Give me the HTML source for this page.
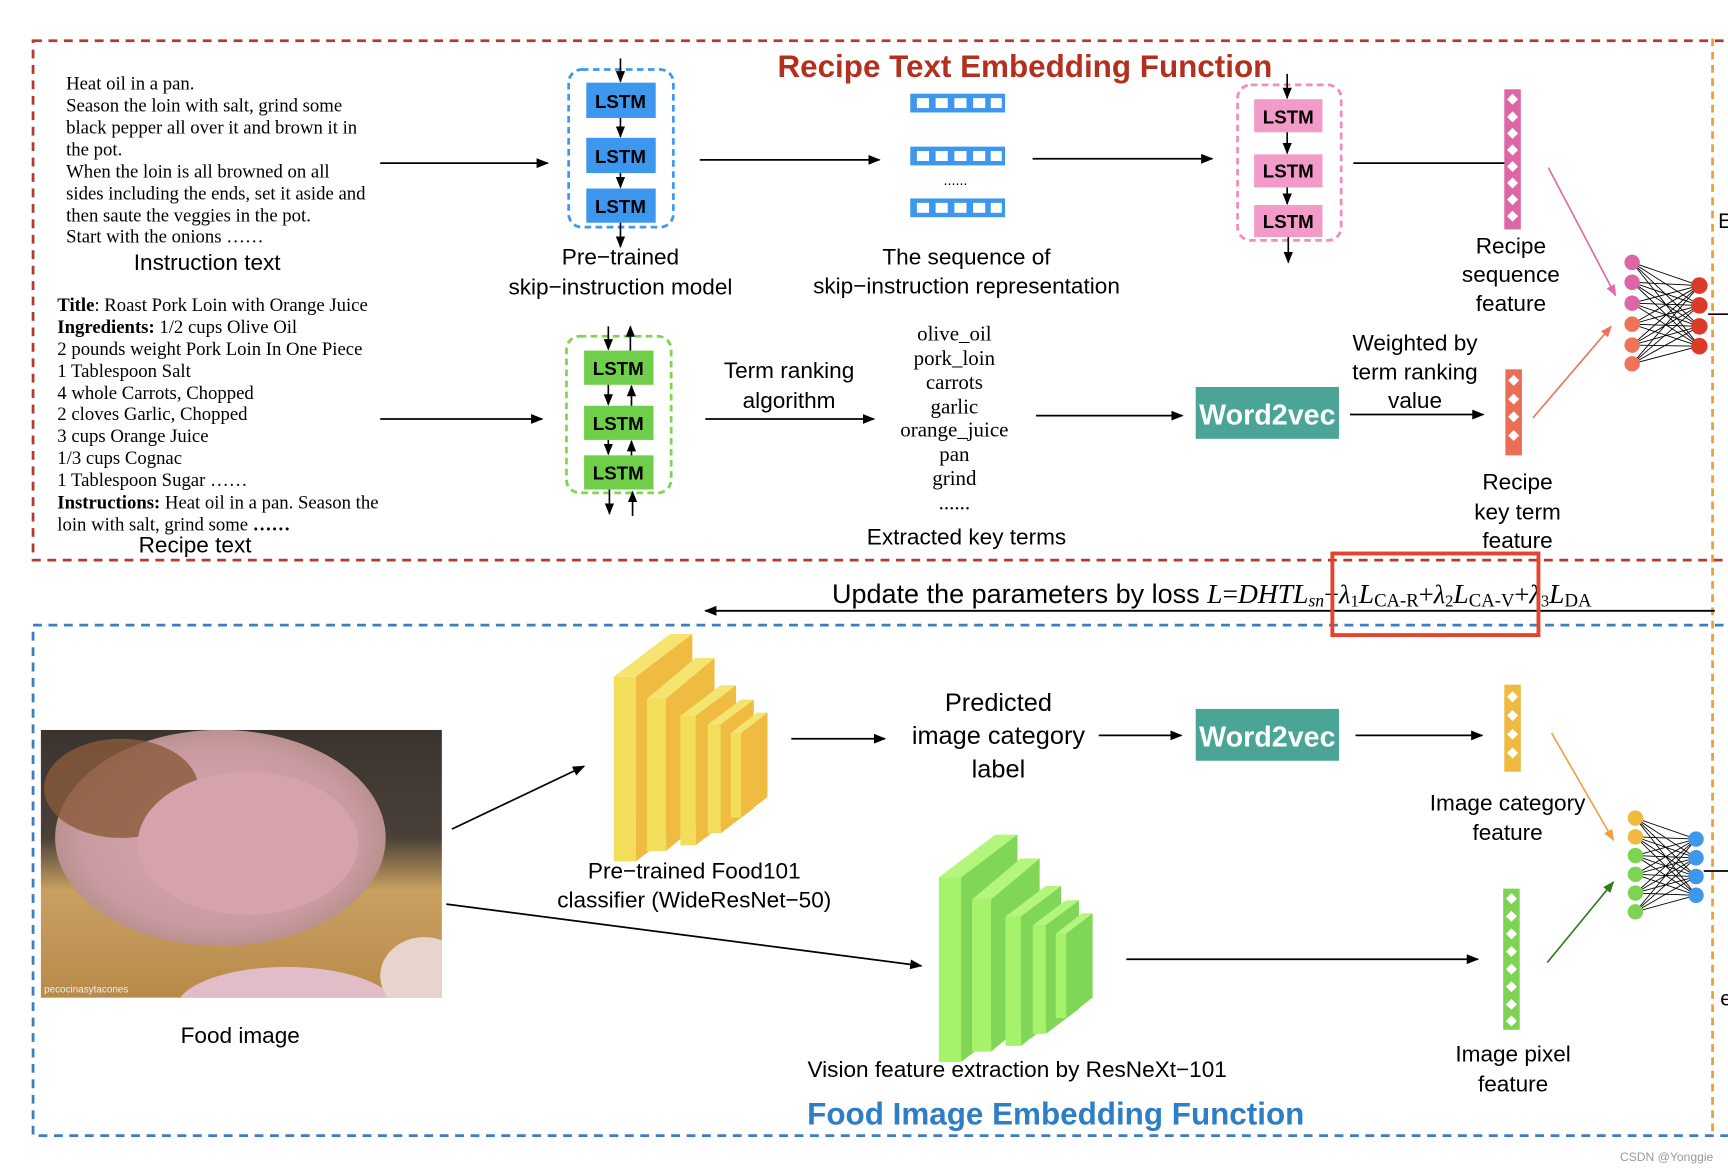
<!DOCTYPE html>
<html><head><meta charset="utf-8"><style>
html,body{margin:0;padding:0;background:#fff;}
svg{display:block;}
.s{font-family:"Liberation Sans",sans-serif;fill:#000;}
.r{font-family:"Liberation Serif",serif;fill:#000;}
</style></head><body>
<svg width="1728" height="1172" viewBox="0 0 1568 1063" preserveAspectRatio="none" xmlns="http://www.w3.org/2000/svg">
<defs>
<marker id="a" viewBox="0 0 10 10" refX="9" refY="5" markerWidth="7" markerHeight="7" orient="auto-start-reverse"><path d="M0,1 L10,5 L0,9 z" fill="#000"/></marker>
<marker id="ap" viewBox="0 0 10 10" refX="9" refY="5" markerWidth="7" markerHeight="7" orient="auto"><path d="M0,1 L10,5 L0,9 z" fill="#e06aa8"/></marker>
<marker id="ao" viewBox="0 0 10 10" refX="9" refY="5" markerWidth="7" markerHeight="7" orient="auto"><path d="M0,1 L10,5 L0,9 z" fill="#ee7358"/></marker>
<marker id="ay" viewBox="0 0 10 10" refX="9" refY="5" markerWidth="7" markerHeight="7" orient="auto"><path d="M0,1 L10,5 L0,9 z" fill="#f0a040"/></marker>
<marker id="ag" viewBox="0 0 10 10" refX="9" refY="5" markerWidth="7" markerHeight="7" orient="auto"><path d="M0,1 L10,5 L0,9 z" fill="#2f7a22"/></marker>
<linearGradient id="wood" x1="0" y1="0" x2="0" y2="1"><stop offset="0" stop-color="#3a3430"/><stop offset="0.4" stop-color="#4a4038"/><stop offset="0.6" stop-color="#c9a060"/><stop offset="1" stop-color="#b88a4a"/></linearGradient>
<radialGradient id="meat" cx="0.5" cy="0.5" r="0.6"><stop offset="0" stop-color="#d9a9b0"/><stop offset="0.7" stop-color="#c99aa0"/><stop offset="1" stop-color="#a8867a"/></radialGradient>
<clipPath id="photo"><rect x="37" y="662" width="364" height="243"/></clipPath>
</defs>

<!-- boxes -->
<rect x="30" y="37" width="1560" height="471" fill="none" stroke="#b33a2c" stroke-width="2.5" stroke-dasharray="8,6"/>
<rect x="30" y="567" width="1560" height="463" fill="none" stroke="#3a7fc4" stroke-width="2.5" stroke-dasharray="8,6"/>
<line x1="1554" y1="35" x2="1554" y2="1030" stroke="#f0a030" stroke-width="2.5" stroke-dasharray="7,5"/>

<text x="930" y="70" text-anchor="middle" class="s" style="font-size:28.5px;fill:#b3301f;font-weight:bold">Recipe Text Embedding Function</text>

<!-- instruction text -->
<g class="r" style="font-size:17px">
<text x="60" y="81">Heat oil in a pan.</text>
<text x="60" y="101">Season the loin with salt, grind some</text>
<text x="60" y="121">black pepper all over it and brown it in</text>
<text x="60" y="141">the pot.</text>
<text x="60" y="161">When the loin is all browned on all</text>
<text x="60" y="181">sides including the ends, set it aside and</text>
<text x="60" y="201">then saute the veggies in the pot.</text>
<text x="60" y="220">Start with the onions ……</text>
</g>
<text x="188" y="245" text-anchor="middle" class="s" style="font-size:20.5px">Instruction text</text>
<line x1="345" y1="148" x2="497" y2="148" stroke="#000" stroke-width="1.6" marker-end="url(#a)"/>

<!-- blue lstm -->
<rect x="516" y="63" width="95" height="143" rx="12" fill="none" stroke="#3d9af0" stroke-width="2.5" stroke-dasharray="6,4"/>
<g fill="#3d97ee"><rect x="532" y="75" width="63" height="32"/><rect x="532" y="125" width="63" height="32"/><rect x="532" y="171" width="63" height="31"/></g>
<g class="s" style="font-size:17px;font-weight:bold" text-anchor="middle"><text x="563" y="98">LSTM</text><text x="563" y="148">LSTM</text><text x="563" y="193">LSTM</text></g>
<g stroke="#000" stroke-width="1.5"><line x1="563" y1="53" x2="563" y2="74" marker-end="url(#a)"/><line x1="563" y1="107" x2="563" y2="124" marker-end="url(#a)"/><line x1="563" y1="157" x2="563" y2="170" marker-end="url(#a)"/><line x1="563" y1="202" x2="563" y2="224" marker-end="url(#a)"/></g>
<text x="563" y="240" text-anchor="middle" class="s" style="font-size:20.5px">Pre−trained</text>
<text x="563" y="267" text-anchor="middle" class="s" style="font-size:20.5px">skip−instruction model</text>
<line x1="635" y1="145" x2="798" y2="145" stroke="#000" stroke-width="1.6" marker-end="url(#a)"/>

<!-- vectors -->
<g>
<rect x="826" y="85" width="86" height="17" fill="#3d97ee"/><rect x="826" y="133" width="86" height="17" fill="#3d97ee"/><rect x="826" y="180" width="86" height="17" fill="#3d97ee"/>
<g fill="#fff">
<rect x="832" y="89" width="11" height="9"/><rect x="849" y="89" width="11" height="9"/><rect x="866" y="89" width="11" height="9"/><rect x="883" y="89" width="11" height="9"/><rect x="899" y="89" width="10" height="9"/>
<rect x="832" y="137" width="11" height="9"/><rect x="849" y="137" width="11" height="9"/><rect x="866" y="137" width="11" height="9"/><rect x="883" y="137" width="11" height="9"/><rect x="899" y="137" width="10" height="9"/>
<rect x="832" y="184" width="11" height="9"/><rect x="849" y="184" width="11" height="9"/><rect x="866" y="184" width="11" height="9"/><rect x="883" y="184" width="11" height="9"/><rect x="899" y="184" width="10" height="9"/>
</g>
<text x="867" y="168" text-anchor="middle" class="s" style="font-size:13px">......</text>
</g>
<text x="877" y="240" text-anchor="middle" class="s" style="font-size:20.5px">The sequence of</text>
<text x="877" y="266" text-anchor="middle" class="s" style="font-size:20.5px">skip−instruction representation</text>
<line x1="937" y1="144" x2="1100" y2="144" stroke="#000" stroke-width="1.6" marker-end="url(#a)"/>

<!-- pink lstm -->
<rect x="1123" y="77" width="94" height="141" rx="12" fill="none" stroke="#f08cc0" stroke-width="2.5" stroke-dasharray="6,4"/>
<g fill="#f29ac8"><rect x="1138" y="90" width="62" height="30"/><rect x="1138" y="140" width="62" height="30"/><rect x="1138" y="186" width="62" height="29"/></g>
<g class="s" style="font-size:17px;font-weight:bold" text-anchor="middle"><text x="1169" y="112">LSTM</text><text x="1169" y="161">LSTM</text><text x="1169" y="207">LSTM</text></g>
<g stroke="#000" stroke-width="1.5"><line x1="1168" y1="67" x2="1168" y2="89" marker-end="url(#a)"/><line x1="1168" y1="120" x2="1168" y2="139" marker-end="url(#a)"/><line x1="1168" y1="170" x2="1168" y2="185" marker-end="url(#a)"/><line x1="1169" y1="215" x2="1169" y2="238" marker-end="url(#a)"/></g>
<line x1="1228" y1="148" x2="1378" y2="148" stroke="#000" stroke-width="1.6" marker-end="url(#a)"/>

<!-- pink bar -->
<rect x="1365" y="81" width="15" height="127" fill="#dd66a6"/>
<g fill="#fff">
<path d="M1372.5,85 l5,5 l-5,5 l-5,-5z"/><path d="M1372.5,101 l5,5 l-5,5 l-5,-5z"/><path d="M1372.5,116 l5,5 l-5,5 l-5,-5z"/><path d="M1372.5,131 l5,5 l-5,5 l-5,-5z"/><path d="M1372.5,146 l5,5 l-5,5 l-5,-5z"/><path d="M1372.5,161 l5,5 l-5,5 l-5,-5z"/><path d="M1372.5,176 l5,5 l-5,5 l-5,-5z"/><path d="M1372.5,191 l5,5 l-5,5 l-5,-5z"/>
</g>
<g class="s" style="font-size:20.5px" text-anchor="middle"><text x="1371" y="230">Recipe</text><text x="1371" y="256">sequence</text><text x="1371" y="282">feature</text></g>

<!-- recipe text -->
<g class="r" style="font-size:17px">
<text x="52" y="282"><tspan font-weight="bold">Title</tspan>: Roast Pork Loin with Orange Juice</text>
<text x="52" y="302"><tspan font-weight="bold">Ingredients:</tspan> 1/2 cups Olive Oil</text>
<text x="52" y="322">2 pounds weight Pork Loin In One Piece</text>
<text x="52" y="342">1 Tablespoon Salt</text>
<text x="52" y="362">4 whole Carrots, Chopped</text>
<text x="52" y="381">2 cloves Garlic, Chopped</text>
<text x="52" y="401">3 cups Orange Juice</text>
<text x="52" y="421">1/3 cups Cognac</text>
<text x="52" y="441">1 Tablespoon Sugar ……</text>
<text x="52" y="461"><tspan font-weight="bold">Instructions:</tspan> Heat oil in a pan. Season the</text>
<text x="52" y="481">loin with salt, grind some <tspan font-weight="bold">……</tspan></text>
</g>
<text x="177" y="501" text-anchor="middle" class="s" style="font-size:20.5px">Recipe text</text>
<line x1="345" y1="380" x2="492" y2="380" stroke="#000" stroke-width="1.6" marker-end="url(#a)"/>

<!-- green lstm -->
<rect x="514" y="305" width="95" height="142" rx="12" fill="none" stroke="#7fd64e" stroke-width="2.5" stroke-dasharray="6,4"/>
<g fill="#6fcf4a"><rect x="530" y="318" width="63" height="31"/><rect x="530" y="368" width="63" height="31"/><rect x="530" y="413" width="63" height="31"/></g>
<g class="s" style="font-size:17px;font-weight:bold" text-anchor="middle"><text x="561" y="340">LSTM</text><text x="561" y="390">LSTM</text><text x="561" y="435">LSTM</text></g>
<g stroke="#000" stroke-width="1.5">
<line x1="552" y1="296" x2="552" y2="317" marker-end="url(#a)"/><line x1="572" y1="318" x2="572" y2="296" marker-end="url(#a)"/>
<line x1="552" y1="349" x2="552" y2="367" marker-end="url(#a)"/><line x1="573" y1="368" x2="573" y2="350" marker-end="url(#a)"/>
<line x1="552" y1="399" x2="552" y2="412" marker-end="url(#a)"/><line x1="573" y1="413" x2="573" y2="400" marker-end="url(#a)"/>
<line x1="553" y1="444" x2="553" y2="466" marker-end="url(#a)"/><line x1="574" y1="468" x2="574" y2="446" marker-end="url(#a)"/>
</g>
<g class="s" style="font-size:20.5px" text-anchor="middle"><text x="716" y="343">Term ranking</text><text x="716" y="370">algorithm</text></g>
<line x1="640" y1="380" x2="793" y2="380" stroke="#000" stroke-width="1.6" marker-end="url(#a)"/>
<g class="r" style="font-size:19px" text-anchor="middle">
<text x="866" y="309">olive_oil</text><text x="866" y="331">pork_loin</text><text x="866" y="353">carrots</text><text x="866" y="375">garlic</text><text x="866" y="396">orange_juice</text><text x="866" y="418">pan</text><text x="866" y="440">grind</text><text x="866" y="462">......</text>
</g>
<text x="877" y="494" text-anchor="middle" class="s" style="font-size:20.5px">Extracted key terms</text>
<line x1="940" y1="377" x2="1073" y2="377" stroke="#000" stroke-width="1.6" marker-end="url(#a)"/>
<rect x="1085" y="351" width="130" height="47" fill="#4aa597"/>
<text x="1150" y="385" text-anchor="middle" class="s" style="font-size:26px;fill:#fff;font-weight:bold">Word2vec</text>
<g class="s" style="font-size:20.5px" text-anchor="middle"><text x="1284" y="318">Weighted by</text><text x="1284" y="344">term ranking</text><text x="1284" y="370">value</text></g>
<line x1="1225" y1="376" x2="1346" y2="376" stroke="#000" stroke-width="1.6" marker-end="url(#a)"/>
<rect x="1366" y="335" width="15" height="78" fill="#eb6d55"/>
<g fill="#fff"><path d="M1373.5,340 l5,5 l-5,5 l-5,-5z"/><path d="M1373.5,357 l5,5 l-5,5 l-5,-5z"/><path d="M1373.5,373 l5,5 l-5,5 l-5,-5z"/><path d="M1373.5,390 l5,5 l-5,5 l-5,-5z"/></g>
<g class="s" style="font-size:20.5px" text-anchor="middle"><text x="1377" y="444">Recipe</text><text x="1377" y="471">key term</text><text x="1377" y="497">feature</text></g>

<line x1="1405" y1="152" x2="1466" y2="268" stroke="#e06aa8" stroke-width="1.5" marker-end="url(#ap)"/>
<line x1="1391" y1="379" x2="1462" y2="296" stroke="#ee7358" stroke-width="1.5" marker-end="url(#ao)"/>

<!-- NN top -->
<g stroke="#000" stroke-width="0.8">
<path d="M1481,238L1542,259M1481,238L1542,277M1481,238L1542,296M1481,238L1542,314M1481,256L1542,259M1481,256L1542,277M1481,256L1542,296M1481,256L1542,314M1481,275L1542,259M1481,275L1542,277M1481,275L1542,296M1481,275L1542,314M1481,294L1542,259M1481,294L1542,277M1481,294L1542,296M1481,294L1542,314M1481,313L1542,259M1481,313L1542,277M1481,313L1542,296M1481,313L1542,314M1481,330L1542,259M1481,330L1542,277M1481,330L1542,296M1481,330L1542,314"/>
</g>
<g><circle cx="1481" cy="238" r="7" fill="#dd66a6"/><circle cx="1481" cy="256" r="7" fill="#dd66a6"/><circle cx="1481" cy="275" r="7" fill="#dd66a6"/><circle cx="1481" cy="294" r="7" fill="#ee7358"/><circle cx="1481" cy="313" r="7" fill="#ee7358"/><circle cx="1481" cy="330" r="7" fill="#ee7358"/>
<circle cx="1542" cy="259" r="7.5" fill="#dc3b2a"/><circle cx="1542" cy="277" r="7.5" fill="#dc3b2a"/><circle cx="1542" cy="296" r="7.5" fill="#dc3b2a"/><circle cx="1542" cy="314" r="7.5" fill="#dc3b2a"/></g>
<line x1="1550" y1="285" x2="1568" y2="285" stroke="#000" stroke-width="1.5"/>
<text x="1559" y="207" class="s" style="font-size:19px">E</text>

<!-- update -->
<line x1="1556" y1="554" x2="640" y2="554" stroke="#000" stroke-width="1.6" marker-end="url(#a)"/>
<text x="755" y="547" class="s" style="font-size:24.5px">Update the parameters by loss <tspan class="r" font-style="italic" style="font-size:25px">L</tspan><tspan class="r" style="font-size:25px">=</tspan><tspan class="r" font-style="italic" style="font-size:25px">DHTL</tspan><tspan class="r" font-style="italic" style="font-size:16px" dy="3">sn</tspan><tspan class="r" style="font-size:24px" dy="-3">+</tspan><tspan class="r" font-style="italic" style="font-size:24px">λ</tspan><tspan class="r" style="font-size:15px" dy="3">1</tspan><tspan class="r" font-style="italic" style="font-size:25px" dy="-3">L</tspan><tspan class="r" style="font-size:17px" dy="3">CA-R</tspan><tspan class="r" style="font-size:24px" dy="-3">+</tspan><tspan class="r" font-style="italic" style="font-size:24px">λ</tspan><tspan class="r" style="font-size:15px" dy="3">2</tspan><tspan class="r" font-style="italic" style="font-size:25px" dy="-3">L</tspan><tspan class="r" style="font-size:17px" dy="3">CA-V</tspan><tspan class="r" style="font-size:24px" dy="-3">+</tspan><tspan class="r" font-style="italic" style="font-size:24px">λ</tspan><tspan class="r" style="font-size:15px" dy="3">3</tspan><tspan class="r" font-style="italic" style="font-size:25px" dy="-3">L</tspan><tspan class="r" style="font-size:17px" dy="3">DA</tspan></text>
<rect x="1209" y="502" width="187" height="74" fill="none" stroke="#e8412c" stroke-width="3.5"/>

<!-- food image -->
<g clip-path="url(#photo)">
<rect x="37" y="662" width="364" height="243" fill="url(#wood)"/>
<ellipse cx="200" cy="760" rx="150" ry="98" fill="url(#meat)"/>
<ellipse cx="110" cy="715" rx="70" ry="45" fill="#8a5a3a" opacity="0.8"/>
<ellipse cx="225" cy="765" rx="100" ry="65" fill="#d6a3ad"/>
<ellipse cx="260" cy="915" rx="100" ry="38" fill="#e2bcc6"/>
<ellipse cx="385" cy="885" rx="40" ry="35" fill="#e8d4cc"/>
</g>
<text x="40" y="900" class="s" style="font-size:9px;fill:#eee">pecocinasytacones</text>
<text x="218" y="946" text-anchor="middle" class="s" style="font-size:20.5px">Food image</text>

<line x1="410" y1="752" x2="530" y2="695" stroke="#000" stroke-width="1.6" marker-end="url(#a)"/>
<line x1="405" y1="820" x2="836" y2="876" stroke="#000" stroke-width="1.6" marker-end="url(#a)"/>

<!-- CNN yellow -->
<g transform="translate(527.5,544) scale(0.31)">
<rect x="95" y="225" width="65" height="540" fill="#f3de5c"/><polygon points="95,225 160,225 325,100 260,100" fill="#f6e470"/><polygon points="160,225 325,100 325,640 160,765" fill="#efbb40"/>
<rect x="192" y="290" width="56" height="445" fill="#f3de5c"/><polygon points="192,290 248,290 390,170 334,170" fill="#f6e470"/><polygon points="248,290 390,170 390,615 248,735" fill="#efbb40"/>
<rect x="290" y="340" width="45" height="378" fill="#f3de5c"/><polygon points="290,340 335,340 453,250 408,250" fill="#f6e470"/><polygon points="335,340 453,250 453,628 335,718" fill="#efbb40"/>
<rect x="370" y="365" width="38" height="318" fill="#f3de5c"/><polygon points="370,365 408,365 505,292 467,292" fill="#f6e470"/><polygon points="408,365 505,292 505,610 408,683" fill="#efbb40"/>
<rect x="437" y="390" width="31" height="247" fill="#f3de5c"/><polygon points="437,390 468,390 545,330 514,330" fill="#f6e470"/><polygon points="468,390 545,330 545,577 468,637" fill="#efbb40"/>
</g>
<!-- CNN green -->
<g transform="translate(822.5,726) scale(0.31)">
<rect x="95" y="225" width="65" height="540" fill="#a6f26a"/><polygon points="95,225 160,225 325,100 260,100" fill="#b4f57c"/><polygon points="160,225 325,100 325,640 160,765" fill="#80d657"/>
<rect x="192" y="290" width="56" height="445" fill="#a6f26a"/><polygon points="192,290 248,290 390,170 334,170" fill="#b4f57c"/><polygon points="248,290 390,170 390,615 248,735" fill="#80d657"/>
<rect x="290" y="340" width="45" height="378" fill="#a6f26a"/><polygon points="290,340 335,340 453,250 408,250" fill="#b4f57c"/><polygon points="335,340 453,250 453,628 335,718" fill="#80d657"/>
<rect x="370" y="365" width="38" height="318" fill="#a6f26a"/><polygon points="370,365 408,365 505,292 467,292" fill="#b4f57c"/><polygon points="408,365 505,292 505,610 408,683" fill="#80d657"/>
<rect x="437" y="390" width="31" height="247" fill="#a6f26a"/><polygon points="437,390 468,390 545,330 514,330" fill="#b4f57c"/><polygon points="468,390 545,330 545,577 468,637" fill="#80d657"/>
</g>
<g class="s" style="font-size:20.5px" text-anchor="middle"><text x="630" y="797">Pre−trained Food101</text><text x="630" y="823">classifier (WideResNet−50)</text></g>
<line x1="718" y1="670" x2="803" y2="670" stroke="#000" stroke-width="1.6" marker-end="url(#a)"/>
<g class="s" style="font-size:23px" text-anchor="middle"><text x="906" y="645">Predicted</text><text x="906" y="675">image category</text><text x="906" y="705">label</text></g>
<line x1="997" y1="667" x2="1072" y2="667" stroke="#000" stroke-width="1.6" marker-end="url(#a)"/>
<rect x="1085" y="643" width="130" height="47" fill="#4aa597"/>
<text x="1150" y="677" text-anchor="middle" class="s" style="font-size:26px;fill:#fff;font-weight:bold">Word2vec</text>
<line x1="1230" y1="667" x2="1345" y2="667" stroke="#000" stroke-width="1.6" marker-end="url(#a)"/>
<rect x="1365" y="621" width="15" height="79" fill="#efba40"/>
<g fill="#fff"><path d="M1372.5,627 l5,5 l-5,5 l-5,-5z"/><path d="M1372.5,644 l5,5 l-5,5 l-5,-5z"/><path d="M1372.5,661 l5,5 l-5,5 l-5,-5z"/><path d="M1372.5,678 l5,5 l-5,5 l-5,-5z"/></g>
<g class="s" style="font-size:20.5px" text-anchor="middle"><text x="1368" y="735">Image category</text><text x="1368" y="762">feature</text></g>

<line x1="1022" y1="870" x2="1341" y2="870" stroke="#000" stroke-width="1.6" marker-end="url(#a)"/>
<rect x="1364" y="806" width="15" height="128" fill="#7ed353"/>
<g fill="#fff"><path d="M1371.5,810 l5,5 l-5,5 l-5,-5z"/><path d="M1371.5,826 l5,5 l-5,5 l-5,-5z"/><path d="M1371.5,842 l5,5 l-5,5 l-5,-5z"/><path d="M1371.5,858 l5,5 l-5,5 l-5,-5z"/><path d="M1371.5,874 l5,5 l-5,5 l-5,-5z"/><path d="M1371.5,890 l5,5 l-5,5 l-5,-5z"/><path d="M1371.5,906 l5,5 l-5,5 l-5,-5z"/><path d="M1371.5,921 l5,5 l-5,5 l-5,-5z"/></g>
<g class="s" style="font-size:20.5px" text-anchor="middle"><text x="1373" y="963">Image pixel</text><text x="1373" y="990">feature</text></g>
<text x="923" y="977" text-anchor="middle" class="s" style="font-size:20.5px">Vision feature extraction by ResNeXt−101</text>
<text x="958" y="1020" text-anchor="middle" class="s" style="font-size:28.5px;fill:#2e7ec6;font-weight:bold">Food Image Embedding Function</text>

<line x1="1408" y1="665" x2="1464" y2="762" stroke="#f0a040" stroke-width="1.5" marker-end="url(#ay)"/>
<line x1="1404" y1="873" x2="1464" y2="800" stroke="#2f7a22" stroke-width="1.5" marker-end="url(#ag)"/>

<!-- NN bottom -->
<g stroke="#000" stroke-width="0.8">
<path d="M1484,742L1539,761M1484,742L1539,778M1484,742L1539,795M1484,742L1539,812M1484,759L1539,761M1484,759L1539,778M1484,759L1539,795M1484,759L1539,812M1484,776L1539,761M1484,776L1539,778M1484,776L1539,795M1484,776L1539,812M1484,793L1539,761M1484,793L1539,778M1484,793L1539,795M1484,793L1539,812M1484,810L1539,761M1484,810L1539,778M1484,810L1539,795M1484,810L1539,812M1484,827L1539,761M1484,827L1539,778M1484,827L1539,795M1484,827L1539,812"/>
</g>
<g><circle cx="1484" cy="742" r="7" fill="#efba40"/><circle cx="1484" cy="759" r="7" fill="#efba40"/><circle cx="1484" cy="776" r="7" fill="#7ed353"/><circle cx="1484" cy="793" r="7" fill="#7ed353"/><circle cx="1484" cy="810" r="7" fill="#7ed353"/><circle cx="1484" cy="827" r="7" fill="#7ed353"/>
<circle cx="1539" cy="761" r="7" fill="#3d97ea"/><circle cx="1539" cy="778" r="7" fill="#3d97ea"/><circle cx="1539" cy="795" r="7" fill="#3d97ea"/><circle cx="1539" cy="812" r="7" fill="#3d97ea"/></g>
<line x1="1546" y1="790" x2="1568" y2="790" stroke="#000" stroke-width="1.5"/>
<text x="1561" y="912" class="s" style="font-size:19px">e</text>

<text x="1470" y="1053" class="s" style="font-size:11px;fill:#999">CSDN @Yonggie</text>
</svg>
</body></html>
